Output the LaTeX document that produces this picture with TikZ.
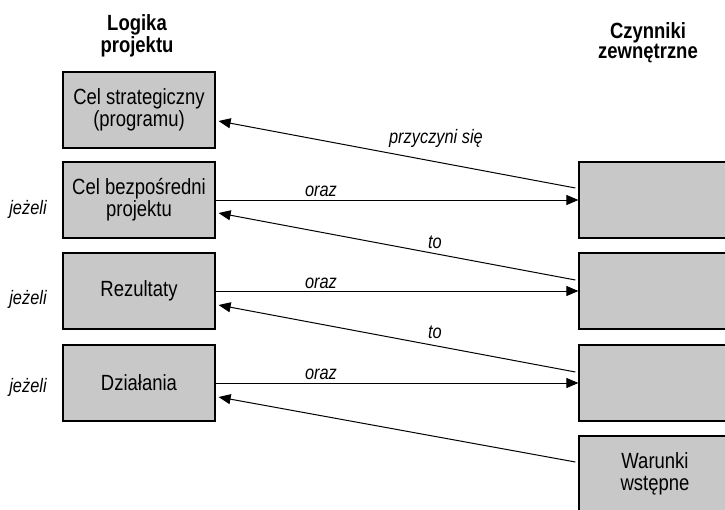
\documentclass[tikz,border=0pt]{standalone}
\usepackage{fontspec}
\setmainfont{Liberation Sans}[FakeStretch=0.84]
\usetikzlibrary{arrows.meta}
\definecolor{boxgray}{RGB}{200,200,200}
\tikzset{
  stagebox/.style={draw=black, line width=1.2pt, fill=boxgray, minimum width=152pt,
    minimum height=76pt, inner sep=0pt, align=center, font=\fontsize{22}{22}\selectfont},
  header/.style={align=center, font=\fontsize{22}{20}\selectfont\bfseries},
  linklabel/.style={inner sep=0pt, font=\fontsize{19.5}{21}\selectfont\itshape},
  link/.style={line width=1pt, -{Triangle[length=12pt,width=10pt]}},
}
\begin{document}
\begin{tikzpicture}[x=1pt, y=-1pt]
\clip (0,0) rectangle (725,509);
\fill[white] (0,0) rectangle (725,509);

% column headings
\node[header] (hl) at (137,36) {Logika\\projektu};
\node[header] (hr) at (648,43) {Czynniki\\zewnętrzne};

% project logic column
\node[stagebox] (l1) at (139,110) {Cel strategiczny\\(programu)};
\node[stagebox] (l2) at (139,200) {Cel bezpośredni\\projektu};
\node[stagebox] (l3) at (139,291) {Rezultaty};
\node[stagebox] (l4) at (139,383) {Działania};

% external factors column
\node[stagebox] (r1) at (655,200) {};
\node[stagebox] (r2) at (655,291) {};
\node[stagebox] (r3) at (655,383) {};
\node[stagebox] (r4) at (655,474) {Warunki\\wstępne};

% "jeżeli" labels
\node[linklabel, anchor=base] (j1) at (28,214) {jeżeli};
\node[linklabel, anchor=base] (j2) at (28,304) {jeżeli};
\node[linklabel, anchor=base] (j3) at (28,392) {jeżeli};

% horizontal "oraz" links
\draw[link] (l2.east) -- (r1.west);
\draw[link] (l3.east) -- (r2.west);
\draw[link] (l4.east) -- (r3.west);
\node[linklabel, anchor=base] (o1) at (321,196) {oraz};
\node[linklabel, anchor=base] (o2) at (321,288) {oraz};
\node[linklabel, anchor=base] (o3) at (321,379) {oraz};

% diagonal links back to the project logic
\draw[link] ([xshift=-3pt,yshift=12pt]r1.west) -- ([xshift=3pt,yshift=-11pt]l1.east);
\draw[link] ([xshift=-3pt,yshift=11pt]r2.west) -- ([xshift=3pt,yshift=-13pt]l2.east);
\draw[link] ([xshift=-3pt,yshift=11pt]r3.west) -- ([xshift=3pt,yshift=-14pt]l3.east);
\draw[link] ([xshift=-3pt,yshift=12pt]r4.west) -- ([xshift=3pt,yshift=-14pt]l4.east);
\node[linklabel, anchor=base] (p1) at (436,143) {przyczyni się};
\node[linklabel, anchor=base] (t1) at (435,248) {to};
\node[linklabel, anchor=base] (t2) at (435,338) {to};
\end{tikzpicture}
\end{document}
